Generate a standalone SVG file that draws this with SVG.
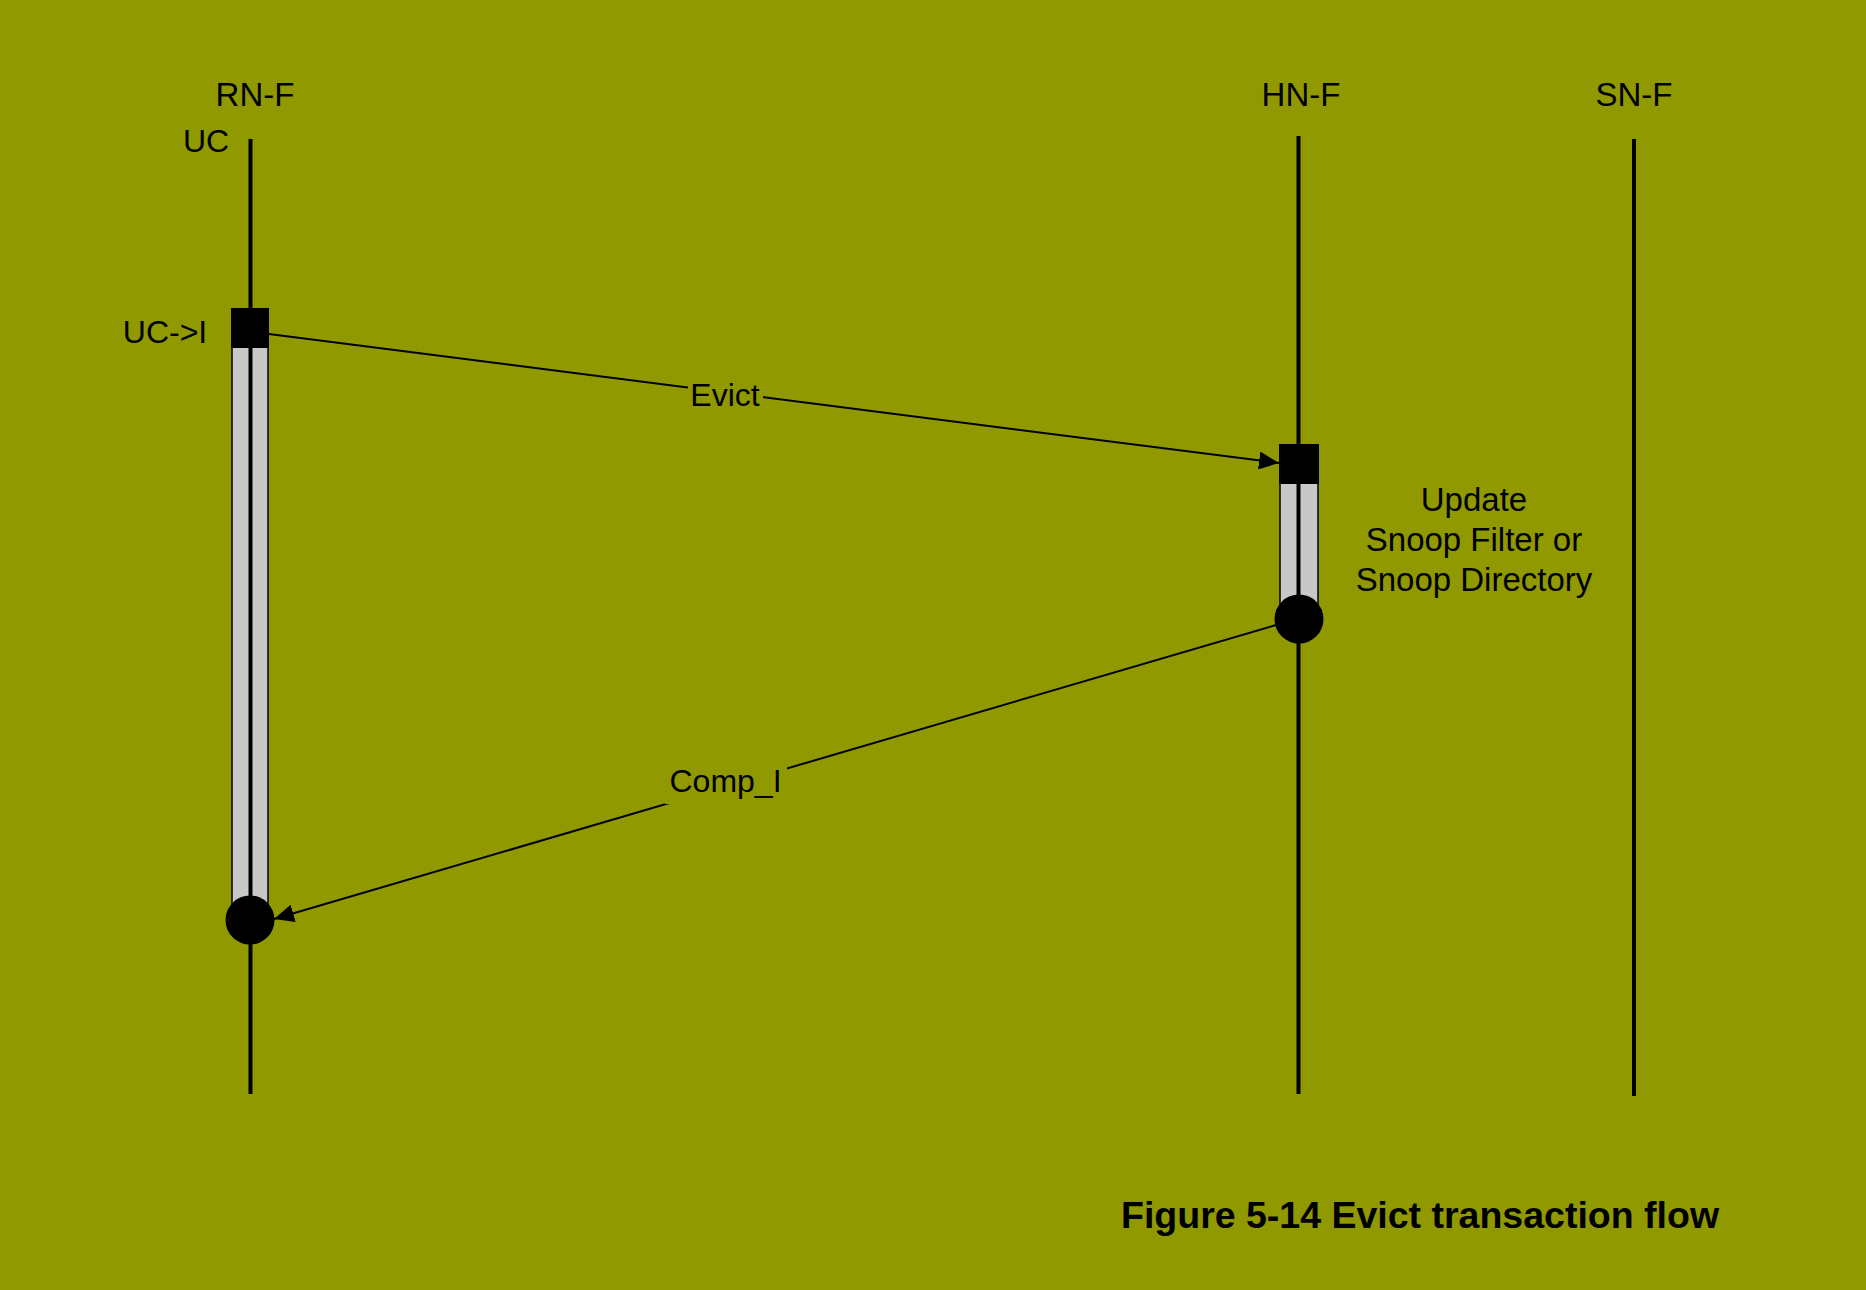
<svg xmlns="http://www.w3.org/2000/svg" width="1866" height="1290" viewBox="0 0 1866 1290">
<style>
text{font-family:"Liberation Sans",Arial,sans-serif;font-size:32px;fill:#000}
.big{font-size:33px}
.life{stroke:#000;stroke-width:4;fill:none}
.bar{fill:#c8c8c8;stroke:#000;stroke-width:1.5}
.msg{stroke:#000;stroke-width:2;fill:none}
.lbl{fill:#919900}
</style>
<defs>
<marker id="arr" markerUnits="userSpaceOnUse" markerWidth="22" markerHeight="18" refX="20" refY="9" orient="auto">
<path d="M0,0 L20,9 L0,18 Z" fill="#000"/>
</marker>
</defs>
<rect width="1866" height="1290" fill="#919900"/>
<g id="rnf">
<text class="big" x="255" y="106" text-anchor="middle">RN-F</text>
<text x="206" y="152" text-anchor="middle">UC</text>
<text x="165" y="343" text-anchor="middle">UC-&gt;I</text>
<rect class="bar" x="232" y="345" width="36" height="565"/>
<line class="life" x1="250.5" y1="139" x2="250.5" y2="1094"/>
<rect x="231" y="308" width="38" height="40" fill="#000"/>
<circle cx="250" cy="920" r="24.5" fill="#000"/>
</g>
<g id="hnf">
<text class="big" x="1301" y="106" text-anchor="middle">HN-F</text>
<rect class="bar" x="1280" y="480" width="38" height="125"/>
<line class="life" x1="1298.5" y1="136" x2="1298.5" y2="1094"/>
<rect x="1279" y="444" width="40" height="40" fill="#000"/>
<circle cx="1299" cy="619" r="24.5" fill="#000"/>
<text class="big" x="1474" y="511" text-anchor="middle">Update</text>
<text class="big" x="1474" y="551" text-anchor="middle">Snoop Filter or</text>
<text class="big" x="1474" y="591" text-anchor="middle">Snoop Directory</text>
</g>
<g id="snf">
<text class="big" x="1634" y="106" text-anchor="middle">SN-F</text>
<line class="life" x1="1634" y1="139" x2="1634" y2="1096"/>
</g>
<g id="connectors">
<line class="msg" x1="269" y1="334" x2="1279" y2="463" marker-end="url(#arr)"/>
<rect class="lbl" x="688" y="378" width="75" height="34"/>
<text x="725" y="406" text-anchor="middle">Evict</text>
<line class="msg" x1="1276" y1="625" x2="274" y2="919" marker-end="url(#arr)"/>
<rect class="lbl" x="665" y="762" width="122" height="42"/>
<text x="725.5" y="792" text-anchor="middle">Comp_I</text>
</g>
<g id="title">
<text x="1121" y="1228" style="font-weight:bold;font-size:37.5px">Figure 5-14 Evict transaction flow</text>
</g>
</svg>
